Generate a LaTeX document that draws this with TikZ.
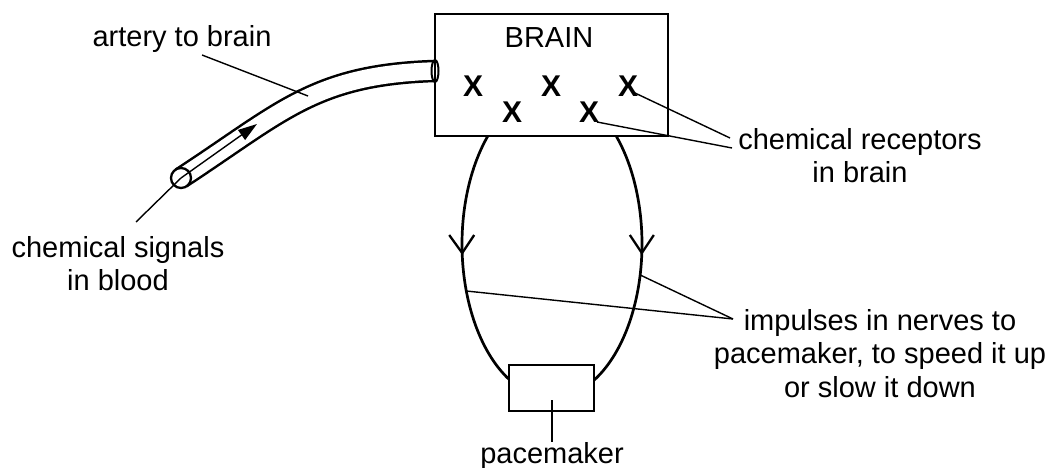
\documentclass[tikz,border=0pt]{standalone}
\usepackage{fontspec}
\setmainfont{Liberation Sans}
\usetikzlibrary{arrows.meta,calc}
\begin{document}
\begin{tikzpicture}[x=1pt,y=-1pt,
  thickline/.style={line width=2.7pt},
  pointer/.style={line width=1.4pt},
  lbl/.style={font=\fontsize{29}{33.5}\selectfont, inner sep=0pt, align=center},
  cross/.style={font=\fontsize{30}{30}\selectfont\bfseries, inner sep=0pt},
  boxstyle/.style={draw, line width=2.8pt, inner sep=0pt, outer sep=0pt}
]
\useasboundingbox (0,0) rectangle (1054,468);

% artery tube
\coordinate (a0) at (181,178);
\coordinate (a3) at (434,71);
\draw[line width=2.5pt, double=white, double distance=17.5pt] (a0) .. controls (282,112) and (314,75) .. (a3);
\draw[line width=2.3pt, fill=white] (a0) circle[radius=10];
\draw[line width=2pt, fill=white] (435,71) ellipse[x radius=3.5, y radius=11];

% brain box
\node[boxstyle, minimum width=233pt, minimum height=122pt, anchor=north west] (brain) at (435,14) {};
\node[lbl, anchor=base] (brainlbl) at (549,48) {BRAIN};
\node[cross] (x1) at (473,86) {X};
\node[cross] (x2) at (512,112) {X};
\node[cross] (x3) at (551,86) {X};
\node[cross] (x4) at (589,112) {X};
\node[cross] (x5) at (628,86) {X};

% pacemaker box
\node[boxstyle, line width=2.7pt, minimum width=85pt, minimum height=46pt] (pm) at (551.5,388) {};

% nerves
\draw[thickline] plot[domain=224.6:118.5, samples=80, smooth] ({552+90*cos(\x)},{244+154*sin(\x)});
\draw[thickline] plot[domain=-44.2:62.1, samples=80, smooth] ({552+90*cos(\x)},{244+154*sin(\x)});
\coordinate (tipL) at (462.2,253);
\coordinate (tipR) at (641.8,253);
\draw[line width=2.3pt] ($(tipL)+(-13,-18)$) -- (tipL) -- ($(tipL)+(12,-18)$);
\draw[line width=2.3pt] ($(tipR)+(-12,-18)$) -- (tipR) -- ($(tipR)+(12,-18)$);
\coordinate (impL) at (466.3,291);
\coordinate (impR) at (640.2,275);

% labels
\node[lbl, anchor=base] (art) at (182,47) {artery to brain};
\node[lbl, anchor=north] (sig) at (118,236) {chemical signals\\in blood};
\node[lbl, anchor=north] (rec) at (860,128) {chemical receptors\\in brain};
\node[lbl, anchor=north] (imp) at (880,309) {impulses in nerves to\\pacemaker, to speed it up\\or slow it down};
\node[lbl, anchor=base] (pml) at (552,463) {pacemaker};

% pointer ends
\coordinate (artS) at (202,55);
\coordinate (artE) at (308,96);
\coordinate (sigS) at (136,222);
\coordinate (arrowtip) at (257,124);
\coordinate (recE1) at (730,138);
\coordinate (recE2) at (732,148);
\coordinate (impE) at (733,319);
\coordinate (pmS) at (552,400);
\coordinate (pmE) at (552,442);

% connectors
\draw[pointer] (artS) -- (artE);
\draw[pointer] (sigS) -- (a0);
\draw[pointer, -{Triangle[length=19pt, width=12pt]}] (a0) -- (arrowtip);
\draw[pointer] ($(x5)+(7,7)$) -- (recE1);
\draw[pointer] ($(x4)+(8,10)$) -- (recE2);
\draw[pointer] (impL) -- (impE);
\draw[pointer] (impR) -- (impE);
\draw[pointer] (pmS) -- (pmE);
\end{tikzpicture}
\end{document}
